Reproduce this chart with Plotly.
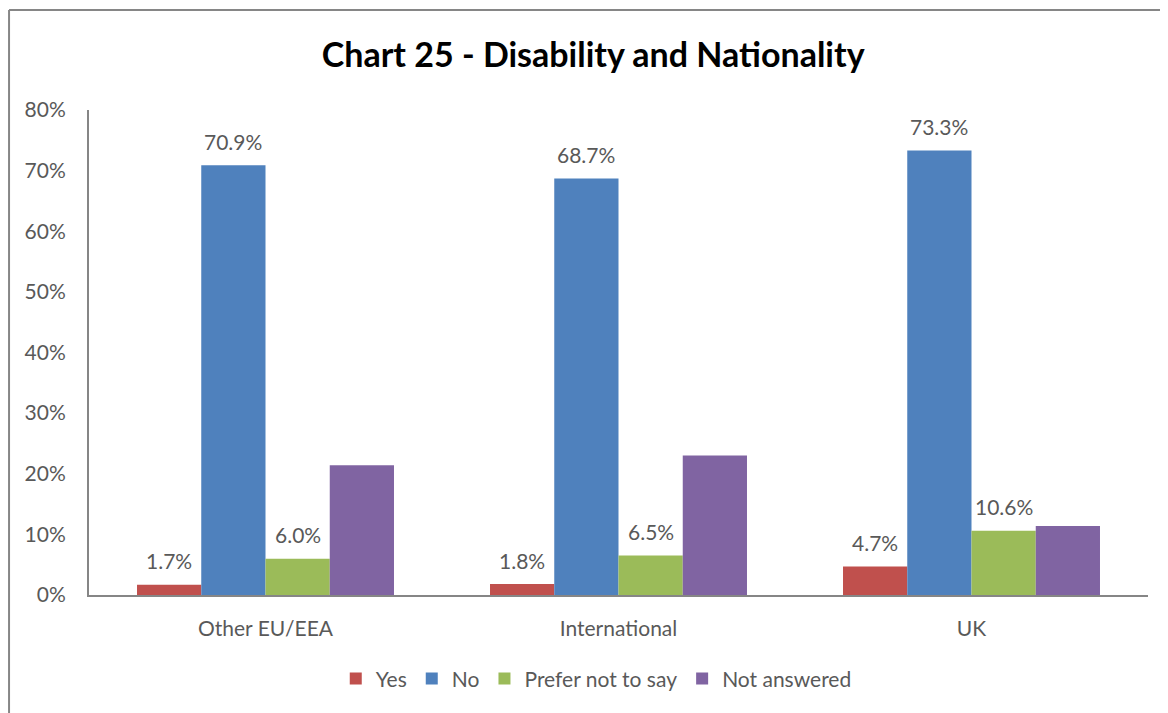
import plotly.graph_objects as go

categories = ["Other EU/EEA", "International", "UK"]
yes = [1.7, 1.8, 4.7]
no = [70.9, 68.7, 73.3]
prefer_not = [6.0, 6.5, 10.6]
not_answered = [21.4, 23.0, 11.4]

series = [
    ("Yes", yes, "#C0504D", True),
    ("No", no, "#4F81BD", True),
    ("Prefer not to say", prefer_not, "#9BBB59", True),
    ("Not answered", not_answered, "#8064A2", False),
]

FONT = "Lato, 'Open Sans', sans-serif"
GRAY = "#595959"
BARGAP = 0.272

fig = go.Figure()
n = len(series)
slot = (1 - BARGAP) / n
for i, (name, vals, color, lab) in enumerate(series):
    fig.add_trace(go.Bar(
        x=categories, y=vals, name=name,
        marker=dict(color=color, line=dict(width=0)),
    ))
    if lab:
        off = (i - (n - 1) / 2) * slot
        for ci, v in enumerate(vals):
            fig.add_annotation(x=ci + off, y=v, xref="x", yref="y",
                               text=f"{v:.1f}%", showarrow=False,
                               yanchor="middle", yshift=24,
                               font=dict(size=21, color=GRAY, family=FONT))

fig.update_layout(
    width=1168, height=713,
    paper_bgcolor="white", plot_bgcolor="white",
    barmode="group", bargap=BARGAP, bargroupgap=0,
    margin=dict(l=81, r=28, t=102, b=126),
    font=dict(family=FONT, size=21, color=GRAY),
    title=dict(text="<b>Chart 25 - Disability and Nationality</b>",
               x=0.501, xanchor="center", y=0.934, yanchor="middle",
               font=dict(size=34, color="black", family=FONT)),
    legend=dict(orientation="h", x=0.479, xanchor="center", y=-0.173, yanchor="middle",
                font=dict(size=21, color=GRAY), itemwidth=30, traceorder="normal"),
    showlegend=True,
)
fig.update_yaxes(range=[0, 80], dtick=10, ticksuffix="%", showgrid=False, zeroline=False,
                 showline=True, linecolor="#868686", linewidth=2,
                 tickfont=dict(size=21, color=GRAY), ticks="", ticklabelstandoff=17)
fig.update_xaxes(showline=True, linecolor="#868686", linewidth=2, showgrid=False,
                 tickfont=dict(size=21, color=GRAY), ticks="", ticklabelstandoff=14)

# chart border (left and top edges visible in the crop)
fig.add_shape(type="line", xref="paper", yref="paper", x0=-0.0755, x1=-0.0755, y0=-0.3, y1=1.206,
              line=dict(color="#868686", width=2))
fig.add_shape(type="line", xref="paper", yref="paper", x0=-0.0755, x1=1.1, y0=1.206, y1=1.206,
              line=dict(color="#868686", width=2))

fig.write_html("out.html")
